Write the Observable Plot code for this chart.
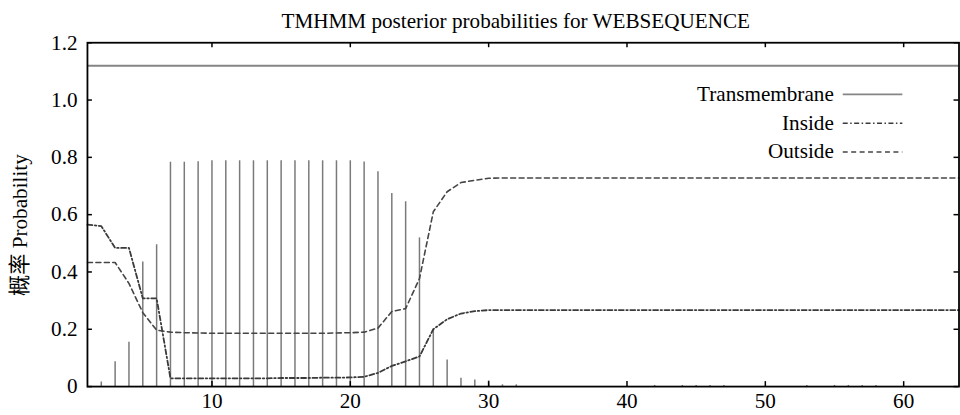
<!DOCTYPE html>
<html><head><meta charset="utf-8">
<script src="https://cdn.jsdelivr.net/npm/d3@7"></script>
<script src="https://cdn.jsdelivr.net/npm/@observablehq/plot@0.6"></script>
<style>
html,body{margin:0;padding:0;background:#fff;overflow:hidden;}
#chart svg{display:block;}
</style></head><body><div id="chart"></div>
<script>
// ---- data ----
const positions = d3.range(1, 65);
const transmembrane = [
  0, 0.016, 0.087, 0.155, 0.435, 0.495, 0.783, 0.783, 0.785, 0.788,
  0.788, 0.788, 0.788, 0.788, 0.788, 0.788, 0.788, 0.788, 0.788, 0.788,
  0.784, 0.75, 0.674, 0.645, 0.519, 0.2, 0.093, 0.029, 0.023, 0.02,
  0.006, 0.006, 0, 0, 0, 0, 0, 0, 0, 0,
  0, 0.004, 0, 0.004, 0.004, 0.004, 0.004, 0, 0, 0,
  0, 0, 0.004, 0, 0.004, 0.004, 0.004, 0.004, 0, 0,
  0, 0, 0, 0
];
const inside = [
  0.565, 0.56, 0.484, 0.484, 0.308, 0.308, 0.029, 0.029, 0.029, 0.029,
  0.029, 0.029, 0.029, 0.029, 0.03, 0.03, 0.03, 0.031, 0.031, 0.032,
  0.034, 0.048, 0.072, 0.088, 0.105, 0.2, 0.235, 0.255, 0.263, 0.267,
  0.267, 0.267, 0.267, 0.267, 0.267, 0.267, 0.267, 0.267, 0.267, 0.267,
  0.267, 0.267, 0.267, 0.267, 0.267, 0.267, 0.267, 0.267, 0.267, 0.267,
  0.267, 0.267, 0.267, 0.267, 0.267, 0.267, 0.267, 0.267, 0.267, 0.267,
  0.267, 0.267, 0.267, 0.267
];
const outside = [
  0.433, 0.433, 0.433, 0.36, 0.258, 0.197, 0.19, 0.188, 0.187, 0.186,
  0.186, 0.186, 0.186, 0.186, 0.186, 0.186, 0.186, 0.186, 0.187, 0.188,
  0.19, 0.204, 0.262, 0.272, 0.377, 0.61, 0.68, 0.712, 0.72, 0.727,
  0.728, 0.728, 0.728, 0.728, 0.728, 0.728, 0.728, 0.728, 0.728, 0.728,
  0.728, 0.728, 0.728, 0.728, 0.728, 0.728, 0.728, 0.728, 0.728, 0.728,
  0.728, 0.728, 0.728, 0.728, 0.728, 0.728, 0.728, 0.728, 0.728, 0.728,
  0.728, 0.728, 0.728, 0.728
];
const topologyLevel = [1.12];
const xTicks = [10, 20, 30, 40, 50, 60];
const yTicks = [0, 0.2, 0.4, 0.6, 0.8, 1.0, 1.2];
const yTickLabels = ["0", "0.2", "0.4", "0.6", "0.8", "1.0", "1.2"];
const legendLabels = ["Transmembrane", "Inside", "Outside"];
const titleText = "TMHMM posterior probabilities for WEBSEQUENCE";
const yLabelText = "概率 Probability";

// ---- build ----
const rows = positions.map((p, i) => ({pos: p, tm: transmembrane[i], inside: inside[i], outside: outside[i]}));

const W = 966, H = 415;
const mL = 87.5, mR = 1.5, mT = 42.5, mB = 26.5;
const fw = W - mL - mR, fh = H - mT - mB;
const FONT = "Liberation Serif, Times New Roman, Times, DejaVu Serif, serif";
const insideDash = "5,2.5,1.5,2.5";
const outsideDash = "5,3.5";
const FS = 21.3;

const plot = Plot.plot({
  width: W, height: H,
  marginLeft: mL, marginRight: mR, marginTop: mT, marginBottom: mB,
  style: {fontFamily: FONT, fontSize: FS + "px", color: "black", background: "white"},
  x: {domain: [1, 64]},
  y: {domain: [0, 1.2]},
  marks: [
    Plot.ruleY(topologyLevel, {stroke: "#858585", strokeWidth: 2}),
    Plot.ruleX(rows.filter(d => d.tm > 0), {x: "pos", y1: 0, y2: "tm", stroke: "#7a7a7a", strokeWidth: 1.5}),
    Plot.line(rows, {x: "pos", y: "inside", stroke: "#3a3a3a", strokeWidth: 1.8, strokeDasharray: insideDash}),
    Plot.line(rows, {x: "pos", y: "outside", stroke: "#454545", strokeWidth: 1.6, strokeDasharray: outsideDash}),
    Plot.frame({stroke: "black", strokeWidth: 1.8}),
    Plot.tickY(yTicks, {y: d => d, insetRight: fw - 5, stroke: "black", strokeWidth: 1.5}),
    Plot.tickY(yTicks, {y: d => d, insetLeft: fw - 5, stroke: "black", strokeWidth: 1.5}),
    Plot.tickX(xTicks, {x: d => d, insetTop: fh - 5, stroke: "black", strokeWidth: 1.5}),
    Plot.tickX(xTicks, {x: d => d, insetBottom: fh - 5, stroke: "black", strokeWidth: 1.5}),
    Plot.axisY(yTicks, {tickSize: 0, tickPadding: 10, tickFormat: (d, i) => yTickLabels[i], label: null, fontSize: FS}),
    Plot.axisX(xTicks, {tickSize: 0, tickPadding: 6, label: null, fontSize: FS}),
    Plot.text([titleText], {frameAnchor: "top", dx: -7.5, dy: -30, fontSize: FS}),
    Plot.text([yLabelText], {frameAnchor: "left", textAnchor: "middle", dx: -68, dy: 10.5, rotate: -90, fontSize: FS,
      fontFamily: "Liberation Serif, Times New Roman, DejaVu Serif, Noto Sans CJK SC, serif"})
  ]
});

// legend drawn inside the frame, top right
const svg = d3.select(plot);
const leg = svg.append("g");
const styles = [
  {stroke: "#858585", dash: null, w: 1.6},
  {stroke: "#3a3a3a", dash: insideDash, w: 1.7},
  {stroke: "#454545", dash: outsideDash, w: 1.5}
];
legendLabels.forEach((lab, i) => {
  const cy = 94 + i * 29;
  leg.append("text").attr("x", 839).attr("y", cy).attr("dy", "0.35em")
    .attr("text-anchor", "end").attr("font-family", FONT).attr("font-size", FS).attr("fill", "black").text(lab);
  const ln = leg.append("line").attr("x1", 848).attr("x2", 908).attr("y1", cy + 1).attr("y2", cy + 1)
    .attr("stroke", styles[i].stroke).attr("stroke-width", styles[i].w);
  if (styles[i].dash) ln.attr("stroke-dasharray", styles[i].dash);
});

document.getElementById("chart").appendChild(plot);
</script>
</body></html>
